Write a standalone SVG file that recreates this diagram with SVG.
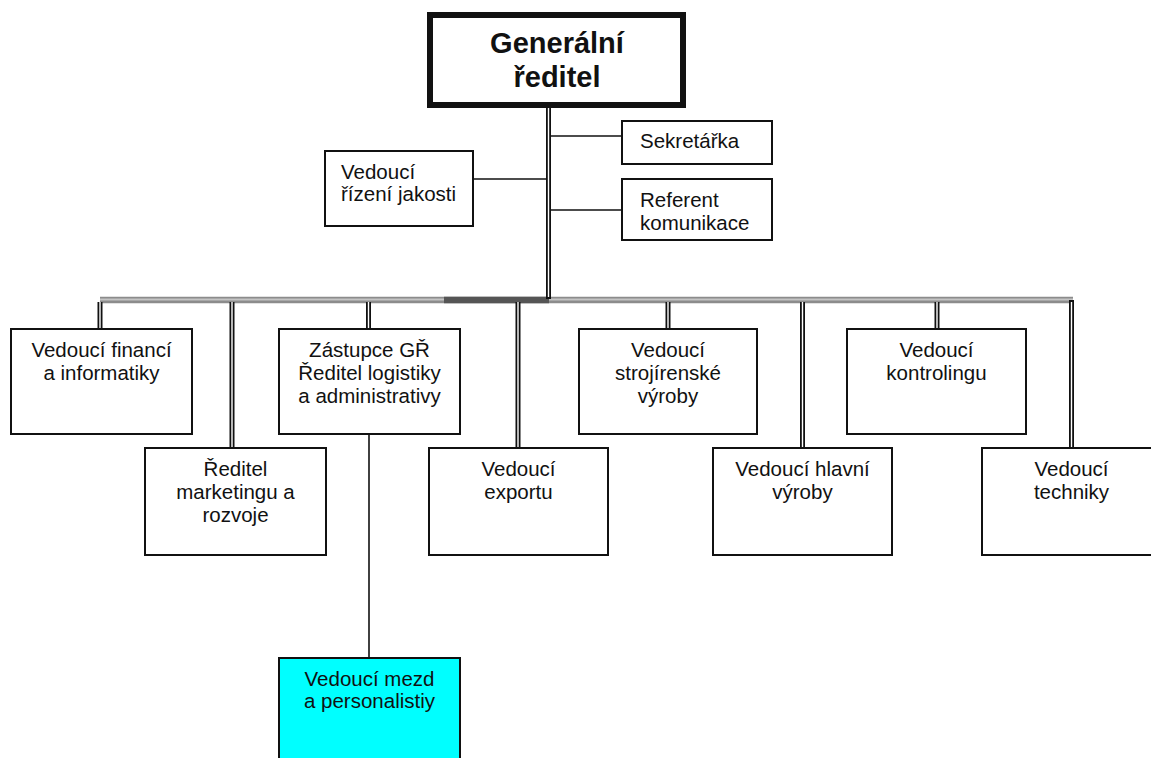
<svg xmlns="http://www.w3.org/2000/svg" width="1151" height="758" viewBox="0 0 1151 758">
<style>
.box{fill:#fff;stroke:#111;stroke-width:2}
.t{font-family:"Liberation Sans",Arial,sans-serif;font-size:20.5px;fill:#111}
.c{text-anchor:middle}
.gr{font-family:"Liberation Sans",Arial,sans-serif;font-size:29px;font-weight:bold;fill:#111;text-anchor:middle}
.dblo{stroke:#111;stroke-width:5;fill:none}
.dbli{stroke:#fff;stroke-width:1.4;fill:none}
.sgl{stroke:#111;stroke-width:1.6;fill:none}
</style>
<g id="connectors">
  <line class="sgl" x1="550" y1="136" x2="622" y2="136"/>
  <line class="sgl" x1="473" y1="179" x2="547" y2="179"/>
  <line class="sgl" x1="550" y1="210" x2="622" y2="210"/>
  <line class="sgl" x1="369" y1="434" x2="369" y2="658"/>
  <!-- bus -->
  <line x1="100" y1="300" x2="1073" y2="300" stroke="#8c8c8c" stroke-width="6.5"/>
  <line x1="100" y1="299.5" x2="1073" y2="299.5" stroke="#c4c4c4" stroke-width="2"/>
  <line x1="444" y1="300" x2="549" y2="300" stroke="#555" stroke-width="6.5"/>
  <!-- trunk -->
  <line class="dblo" x1="548.5" y1="108" x2="548.5" y2="299"/>
  <line class="dbli" x1="548.5" y1="108" x2="548.5" y2="297"/>
  <!-- drops -->
  <g>
    <line class="dblo" x1="100" y1="302" x2="100" y2="329"/>
    <line class="dbli" x1="100" y1="302" x2="100" y2="329"/>
    <line class="dblo" x1="232" y1="302" x2="232" y2="448"/>
    <line class="dbli" x1="232" y1="302" x2="232" y2="448"/>
    <line class="dblo" x1="368.5" y1="302" x2="368.5" y2="329"/>
    <line class="dbli" x1="368.5" y1="302" x2="368.5" y2="329"/>
    <line class="dblo" x1="518" y1="302" x2="518" y2="448"/>
    <line class="dbli" x1="518" y1="302" x2="518" y2="448"/>
    <line class="dblo" x1="668" y1="302" x2="668" y2="329"/>
    <line class="dbli" x1="668" y1="302" x2="668" y2="329"/>
    <line class="dblo" x1="802.5" y1="302" x2="802.5" y2="448"/>
    <line class="dbli" x1="802.5" y1="302" x2="802.5" y2="448"/>
    <line class="dblo" x1="937" y1="302" x2="937" y2="329"/>
    <line class="dbli" x1="937" y1="302" x2="937" y2="329"/>
    <line class="dblo" x1="1071.5" y1="300" x2="1071.5" y2="448"/>
    <line class="dbli" x1="1071.5" y1="302" x2="1071.5" y2="448"/>
  </g>
</g>
<g id="generalni-reditel">
  <rect x="430" y="15" width="253" height="90" fill="#fff" stroke="#111" stroke-width="6"/>
  <text class="gr" x="557" y="53">Generální</text>
  <text class="gr" x="557" y="87">ředitel</text>
</g>
<g id="sekretarka">
  <rect class="box" x="622" y="121" width="150" height="43"/>
  <text class="t" x="640" y="148">Sekretářka</text>
</g>
<g id="rizeni-jakosti">
  <rect class="box" x="325" y="151" width="148" height="75"/>
  <text class="t" x="341" y="179">Vedoucí</text>
  <text class="t" x="341" y="201">řízení jakosti</text>
</g>
<g id="referent">
  <rect class="box" x="622" y="179" width="150" height="61"/>
  <text class="t" x="640" y="207">Referent</text>
  <text class="t" x="640" y="230">komunikace</text>
</g>
<g id="financi">
  <rect class="box" x="11" y="329" width="181" height="105"/>
  <text class="t c" x="101.5" y="357">Vedoucí financí</text>
  <text class="t c" x="101.5" y="380">a informatiky</text>
</g>
<g id="zastupce">
  <rect class="box" x="279" y="329" width="181" height="105"/>
  <text class="t c" x="369.5" y="357">Zástupce GŘ</text>
  <text class="t c" x="369.5" y="380">Ředitel logistiky</text>
  <text class="t c" x="369.5" y="403">a administrativy</text>
</g>
<g id="strojirenske">
  <rect class="box" x="579" y="329" width="178" height="105"/>
  <text class="t c" x="668" y="357">Vedoucí</text>
  <text class="t c" x="668" y="380">strojírenské</text>
  <text class="t c" x="668" y="403">výroby</text>
</g>
<g id="kontrolingu">
  <rect class="box" x="847" y="329" width="179" height="105"/>
  <text class="t c" x="936.5" y="357">Vedoucí</text>
  <text class="t c" x="936.5" y="380">kontrolingu</text>
</g>
<g id="marketingu">
  <rect class="box" x="145" y="448" width="181" height="107"/>
  <text class="t c" x="235.5" y="476">Ředitel</text>
  <text class="t c" x="235.5" y="499">marketingu a</text>
  <text class="t c" x="235.5" y="522">rozvoje</text>
</g>
<g id="exportu">
  <rect class="box" x="429" y="448" width="179" height="107"/>
  <text class="t c" x="518.5" y="476">Vedoucí</text>
  <text class="t c" x="518.5" y="499">exportu</text>
</g>
<g id="hlavni-vyroby">
  <rect class="box" x="713" y="448" width="179" height="107"/>
  <text class="t c" x="802.5" y="476">Vedoucí hlavní</text>
  <text class="t c" x="802.5" y="499">výroby</text>
</g>
<g id="techniky">
  <rect class="box" x="982" y="448" width="179" height="107"/>
  <text class="t c" x="1071.5" y="476">Vedoucí</text>
  <text class="t c" x="1071.5" y="499">techniky</text>
</g>
<g id="mezd">
  <rect x="279" y="658" width="181" height="110" fill="#00ffff" stroke="#111" stroke-width="2"/>
  <text class="t c" x="369.5" y="686" fill="#0a2a2a">Vedoucí mezd</text>
  <text class="t c" x="369.5" y="708">a personalistiy</text>
</g>
</svg>
